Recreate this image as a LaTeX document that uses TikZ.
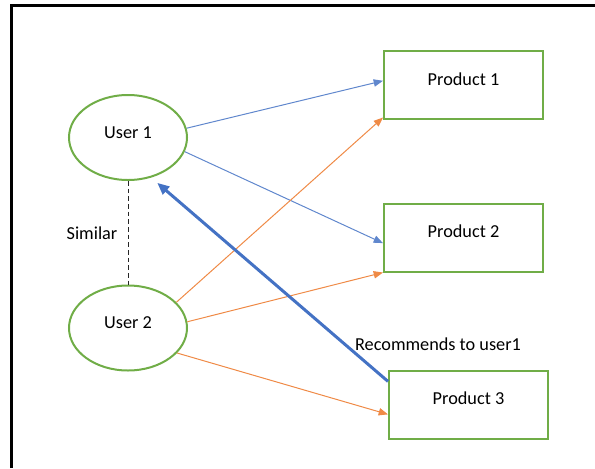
\documentclass[tikz,border=0pt]{standalone}
\usepackage{fontspec}
\setmainfont{Carlito}
\usepackage{xcolor}
\usetikzlibrary{arrows.meta,shapes.geometric}

\definecolor{usergreen}{HTML}{70AD47}
\definecolor{linkblue}{HTML}{4472C4}
\definecolor{linkorange}{HTML}{ED7D31}

\tikzset{
	user/.style={ellipse, draw=usergreen, line width=1.5pt, minimum width=88.5pt, minimum height=63.75pt, text depth=7.5pt},
	product/.style={rectangle, draw=usergreen, line width=1.5pt, minimum width=119.25pt, minimum height=51pt, text depth=9pt},
	likes/.style={-{Triangle[length=7pt,width=5.5pt]}, line width=0.75pt, linkblue!85},
	alsolikes/.style={-{Triangle[length=7pt,width=5.5pt]}, line width=0.75pt, linkorange!90},
	recommend/.style={-{Triangle[length=9pt,width=7.5pt]}, line width=2.25pt, linkblue}
}

\begin{document}
\begin{tikzpicture}[x=0.75pt, y=-0.75pt, font=\fontsize{13.7pt}{16pt}\selectfont]
	\useasboundingbox (0,0) rectangle (595,468);
	% frame
	\draw[line width=2.25pt] (11,468) -- (11,5) -- (595,5);

	% Define the nodes with specific positions
	\node[user] (user1) at (128, 137.5) {User 1};
	\node[user] (user2) at (128, 328) {User 2};
	\node (similar) at (92, 233) {Similar};

	\node[product] (prod1) at (463.5, 85) {Product 1};
	\node[product] (prod2) at (463.5, 237.5) {Product 2};
	\node[product] (prod3) at (468.5, 404.5) {Product 3};
	\node (rec) at (438, 344) {Recommends to user1};

	% Draw the edges between nodes
	\draw[dash pattern=on 3.5pt off 2.25pt, line width=0.75pt, black!85] (user1) -- (user2);
	\draw[likes] (user1.9) -- (prod1.177);
	\draw[likes] (user1.-14) -- (prod2.184);
	\draw[alsolikes] (user2.28) -- (prod1.202);
	\draw[alsolikes] (user2.6) -- (prod2.south west);
	\draw[alsolikes] (user2.-27) -- (prod3.187.5);
	\draw[recommend, shorten >=6pt] (prod3.164) -- (user1.-60);
\end{tikzpicture}
\end{document}
